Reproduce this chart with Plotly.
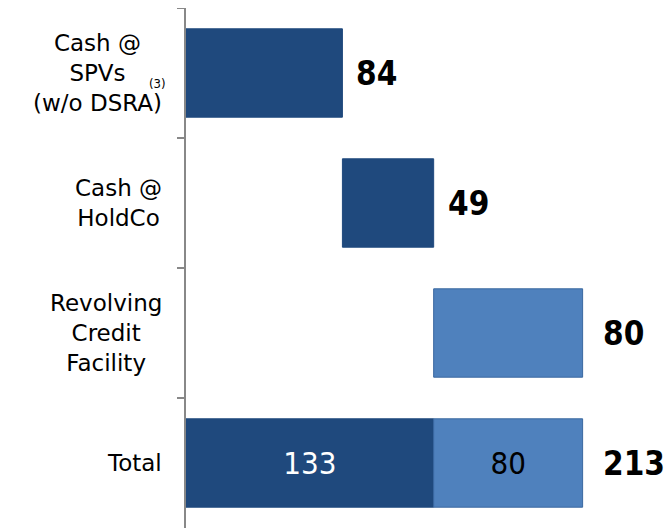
import plotly.graph_objects as go

categories = ["Cash @<br>SPVs<br>(w/o DSRA)", "Cash @<br>HoldCo", "Revolving<br>Credit<br>Facility", "Total"]
step_values = [84, 49, 80]
total_cash = 133
total_rcf = 80
total_value = 213

DARK = "#1F497D"
LIGHT = "#4F81BD"
FONT = "DejaVu Sans Condensed"
CAT_FONT = "DejaVu Sans"

bases = [0, step_values[0], step_values[0] + step_values[1]]

fig = go.Figure()
# dark (cash) bars: SPVs, HoldCo, and cash part of Total
fig.add_trace(go.Bar(
    y=[categories[0], categories[1], categories[3]],
    x=[step_values[0], step_values[1], total_cash],
    base=[bases[0], bases[1], 0],
    orientation="h",
    marker=dict(color=DARK, line=dict(color=DARK, width=1)),
    text=["", "", str(total_cash)],
    textposition="inside",
    insidetextanchor="middle",
    constraintext="none",
    textfont=dict(color="white", size=31, family=FONT),
    showlegend=False,
    hoverinfo="skip",
))
# light (RCF) bars
fig.add_trace(go.Bar(
    y=[categories[2], categories[3]],
    x=[step_values[2], total_rcf],
    base=[bases[2], total_cash],
    orientation="h",
    marker=dict(color=LIGHT, line=dict(color="#3A68A0", width=1)),
    text=["", str(total_rcf)],
    textposition="inside",
    insidetextanchor="middle",
    constraintext="none",
    textfont=dict(color="black", size=31, family=FONT),
    showlegend=False,
    hoverinfo="skip",
))

annotations = []
# value labels to the right of bars
ends = [bases[i] + step_values[i] for i in range(3)] + [total_value]
labels = [str(v) for v in step_values] + [str(total_value)]
for i, (cat, end, lab) in enumerate(zip(categories, ends, labels)):
    annotations.append(dict(
        x=end, y=cat, xref="x", yref="y", text="<b>%s</b>" % lab,
        showarrow=False, xanchor="left", yanchor="middle",
        xshift=12 if i < 2 else 18,
        font=dict(size=33, color="black", family=FONT),
    ))
# category labels (centered multi-line)
for cat in categories:
    annotations.append(dict(
        x=0, y=cat, xref="paper", yref="y", text=cat,
        showarrow=False, xanchor="right", yanchor="middle", align="center",
        xshift=-22,
        font=dict(size=23, color="black", family=CAT_FONT),
    ))
# footnote marker
annotations.append(dict(
    x=0, y=categories[0], xref="paper", yref="y", text="(3)",
    showarrow=False, xanchor="center", yanchor="middle",
    xshift=-29, yshift=-10,
    font=dict(size=13, color="black", family=FONT),
))

fig.update_layout(
    width=664, height=520,
    margin=dict(l=178, r=0, t=0, b=0, autoexpand=False),
    paper_bgcolor="white", plot_bgcolor="white",
    barmode="overlay", bargap=0.32,
    font=dict(family=FONT),
    annotations=annotations,
    xaxis=dict(range=[0, 261], visible=False, automargin=False),
    yaxis=dict(
        type="category", categoryorder="array", categoryarray=categories,
        autorange="reversed", automargin=False,
        showticklabels=False, showline=True, linecolor="#888888", linewidth=1.5,
        ticks="outside", tickson="boundaries", ticklen=7, tickcolor="#888888", tickwidth=1.5,
        showgrid=False, zeroline=False,
    ),
)

fig.write_html("out.html")
